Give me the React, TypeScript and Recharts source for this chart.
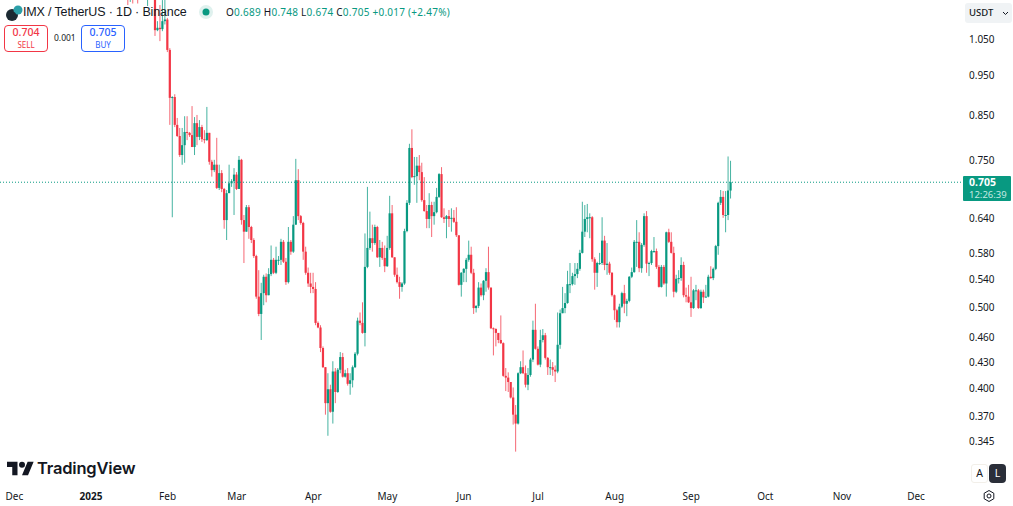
import React from "react";
import { ComposedChart, Bar, XAxis, YAxis, ReferenceLine } from "recharts";

const FONT = '"Noto Sans", "Open Sans", sans-serif';
const TITLE_FONT = '"Liberation Sans", Arial, sans-serif';
const UP = "#089981";
const DOWN = "#F23645";

const firstDay = 12; // days since 1 Jan 2025 of the first candle
const firstOpen = 1.33;
const closes = [
  1.30,1.27,1.24,1.22,1.25,1.23,1.26,1.24,
  1.23,1.21,1.24,1.26,1.22,1.20,1.073,1.080,1.076,1.100,
  1.105,1.016,.890,.892,.826,.801,.760,.781,.810,.808,
  .803,.777,.830,.799,.821,.794,.792,.808,.746,.729,
  .740,.694,.723,.692,.635,.684,.703,.707,.720,.692,
  .750,.635,.615,.658,.623,.601,.575,.514,.490,.519,
  .543,.516,.547,.569,.549,.569,.569,.598,.566,.535,
  .598,.582,.627,.709,.642,.630,.582,.549,.533,.528,
  .525,.478,.472,.446,.423,.383,.398,.374,.418,.395,
  .420,.435,.412,.416,.404,.408,.423,.439,.481,.478,
  .465,.558,.588,.604,.596,.623,.573,.588,.572,.559,
  .588,.647,.573,.546,.535,.528,.533,.616,.666,.775,
  .715,.717,.738,.725,.671,.651,.637,.662,.642,.649,
  .677,.721,.640,.637,.642,.637,.639,.632,.609,.531,
  .549,.555,.569,.577,.549,.498,.501,.527,.516,.537,
  .550,.527,.471,.470,.465,.456,.452,.413,.411,.406,
  .389,.371,.362,.416,.423,.416,.403,.414,.432,.469,
  .445,.426,.456,.462,.434,.423,.423,.420,.418,.450,
  .491,.498,.505,.532,.532,.544,.547,.555,.580,.615,
  .637,.640,.640,.570,.549,.564,.564,.600,.561,.563,
  .549,.516,.495,.479,.500,.519,.504,.508,.543,.550,
  .598,.598,.556,.593,.642,.563,.564,.583,.583,.558,
  .528,.558,.533,.614,.598,.580,.521,.540,.541,.561,
  .516,.514,.506,.498,.523,.523,.498,.521,.513,.514,
  .543,.541,.555,.591,.666,.677,.644,.644,.689,.705,
];
const highs = [
  1.36,1.33,1.30,1.28,1.30,1.29,1.31,1.29,
  1.31,1.28,1.29,1.30,1.27,1.26,1.24,1.10,1.15,1.166,
  1.17,1.110,1.021,.894,.899,.842,.819,.819,.846,.846,
  .810,.870,.844,.849,.837,.826,.814,.868,.808,.750,
  .750,.797,.740,.729,.694,.690,.740,.711,.733,.725,
  .758,.752,.644,.662,.662,.625,.604,.577,.553,.534,
  .546,.548,.556,.592,.572,.590,.575,.603,.601,.572,
  .623,.601,.642,.752,.731,.644,.632,.590,.557,.549,
  .549,.535,.480,.475,.448,.423,.416,.403,.430,.422,
  .422,.441,.440,.420,.422,.416,.425,.441,.485,.492,
  .506,.612,.696,.650,.627,.627,.625,.601,.598,.592,
  .608,.679,.662,.573,.557,.543,.535,.620,.671,.784,
  .816,.756,.756,.760,.744,.715,.662,.684,.668,.668,
  .694,.723,.735,.656,.644,.653,.656,.653,.658,.608,
  .550,.556,.572,.600,.590,.555,.502,.535,.533,.538,
  .556,.590,.527,.472,.471,.463,.488,.453,.422,.417,
  .406,.400,.381,.417,.430,.443,.425,.422,.434,.481,
  .504,.448,.469,.470,.465,.435,.432,.429,.425,.492,
  .496,.528,.519,.552,.564,.549,.564,.564,.585,.668,
  .662,.664,.647,.642,.573,.566,.580,.640,.608,.596,
  .566,.550,.517,.497,.504,.521,.531,.511,.544,.557,
  .601,.635,.614,.596,.647,.651,.566,.585,.606,.587,
  .561,.561,.561,.615,.620,.614,.590,.546,.553,.573,
  .566,.527,.531,.543,.525,.531,.525,.524,.524,.531,
  .546,.559,.557,.593,.668,.690,.688,.688,.757,.748,
];
const lows = [
  1.25,1.22,1.19,1.15,1.16,1.155,1.19,1.155,
  1.18,1.17,1.19,1.147,1.17,1.17,1.056,1.070,1.041,1.07,
  1.09,1.010,.826,.640,.821,.799,.756,.740,.744,.792,
  .799,.777,.760,.781,.792,.788,.785,.790,.740,.716,
  .725,.692,.690,.686,.620,.601,.686,.696,.644,.690,
  .692,.627,.564,.615,.603,.596,.572,.511,.487,.456,
  .502,.506,.516,.544,.547,.547,.561,.561,.564,.531,
  .533,.577,.580,.627,.635,.627,.569,.546,.528,.519,
  .519,.475,.471,.441,.422,.371,.350,.373,.362,.383,
  .394,.416,.411,.411,.402,.392,.400,.422,.437,.475,
  .464,.448,.556,.585,.582,.593,.572,.558,.569,.550,
  .558,.585,.572,.543,.533,.511,.521,.531,.614,.662,
  .713,.700,.666,.709,.668,.650,.621,.621,.606,.627,
  .647,.675,.639,.630,.604,.623,.615,.630,.606,.530,
  .514,.535,.535,.566,.547,.490,.492,.498,.514,.509,
  .521,.524,.470,.437,.448,.452,.451,.412,.396,.395,
  .388,.361,.335,.361,.415,.415,.400,.397,.412,.429,
  .444,.425,.423,.453,.432,.414,.414,.413,.406,.416,
  .445,.491,.491,.504,.519,.530,.531,.541,.552,.579,
  .606,.614,.604,.566,.524,.528,.561,.561,.553,.546,
  .546,.514,.482,.472,.472,.498,.491,.487,.506,.541,
  .549,.558,.550,.549,.590,.549,.544,.561,.580,.555,
  .527,.527,.531,.514,.596,.579,.513,.519,.533,.537,
  .513,.506,.505,.486,.497,.509,.497,.497,.505,.513,
  .513,.540,.538,.553,.577,.662,.639,.614,.635,.674,
];

const monthDays = [-31, 0, 31, 59, 90, 120, 151, 181, 212, 243, 273, 304, 334];
const monthLabels = ["Dec", "2025", "Feb", "Mar", "Apr", "May", "Jun", "Jul", "Aug", "Sep", "Oct", "Nov", "Dec"];
const priceTicks = [1.05, 0.95, 0.85, 0.75, 0.64, 0.58, 0.54, 0.5, 0.46, 0.43, 0.4, 0.37, 0.345];

const table = closes.map((close, i) => ({
  day: firstDay + i,
  open: i === 0 ? firstOpen : closes[i - 1],
  close,
  high: highs[i],
  low: lows[i],
  range: [lows[i], highs[i]],
}));

function Candle(props: any) {
  const { x, y, width, height, payload } = props;
  const { open, close, high, low } = payload;
  const cx = x + width / 2;
  const span = Math.log(high) - Math.log(low);
  const yOf = (v: number) => y + (height * (Math.log(high) - Math.log(v))) / span;
  const top = yOf(Math.max(open, close));
  const bottom = yOf(Math.min(open, close));
  const color = close >= open ? UP : DOWN;
  return (
    <g>
      <rect x={cx - 0.5} y={y} width={1} height={height} fill={color} fillOpacity={0.75} />
      <rect x={cx - 1.1} y={top} width={2.2} height={Math.max(bottom - top, 1)} fill={color} />
    </g>
  );
}

function MonthTick(props: any) {
  const { x, y, payload } = props;
  const label = monthLabels[monthDays.indexOf(payload.value)];
  return (
    <text x={x} y={y + 7} textAnchor="middle" fontFamily={FONT} fontSize={10} fill="#131722" fontWeight={label === "2025" ? 700 : 400}>
      {label}
    </text>
  );
}

function PriceTick(props: any) {
  const { y, payload } = props;
  return (
    <text x={969} y={y + 4.5} textAnchor="start" fontFamily={FONT} fontSize={10} fill="#131722">
      {payload.value.toFixed(3)}
    </text>
  );
}

const abs = (left: number, top: number, extra: React.CSSProperties = {}): React.CSSProperties => ({
  position: "absolute",
  left,
  top,
  whiteSpace: "nowrap",
  fontFamily: FONT,
  ...extra,
});

function Header() {
  const v: React.CSSProperties = { color: UP };
  const k: React.CSSProperties = { color: "#131722" };
  return (
    <>
      <svg style={abs(5, 4)} width={18} height={18} viewBox="0 0 18 18">
        <circle cx={7} cy={11} r={6} fill="#1c2a33" />
        <circle cx={13} cy={6} r={4.5} fill="#2b9fa8" />
        <circle cx={8} cy={11} r={3} fill="#1c2a33" />
      </svg>
      <div style={abs(23, 3, { fontFamily: TITLE_FONT, fontSize: 12.5, letterSpacing: -0.15, lineHeight: "18px", color: "#131722" })}>IMX / TetherUS · 1D · Binance</div>
      <svg style={abs(199, 5)} width={14} height={14}>
        <circle cx={7} cy={7} r={7} fill="#dff1ee" />
        <circle cx={7} cy={7} r={3.5} fill={UP} />
      </svg>
      <div style={abs(226, 5, { fontSize: 10, lineHeight: "14px", letterSpacing: 0.25 })}>
        <span style={k}>O</span><span style={v}>0.689 </span>
        <span style={k}> H</span><span style={v}>0.748 </span>
        <span style={k}> L</span><span style={v}>0.674 </span>
        <span style={k}> C</span><span style={v}>0.705 +0.017 (+2.47%)</span>
      </div>
      <div style={abs(4, 25, { width: 42, height: 25, border: `1px solid ${DOWN}`, borderRadius: 4, background: "#fff", textAlign: "center", color: DOWN })}>
        <div style={{ fontSize: 10.5, lineHeight: "13px", fontWeight: 500 }}>0.704</div>
        <div style={{ fontSize: 8, lineHeight: "11px" }}>SELL</div>
      </div>
      <div style={abs(54, 32, { fontSize: 8.5, lineHeight: "12px", color: "#131722" })}>0.001</div>
      <div style={abs(81, 25, { width: 42, height: 25, border: "1px solid #2962FF", borderRadius: 4, background: "#fff", textAlign: "center", color: "#2962FF" })}>
        <div style={{ fontSize: 10.5, lineHeight: "13px", fontWeight: 500 }}>0.705</div>
        <div style={{ fontSize: 8, lineHeight: "11px" }}>BUY</div>
      </div>
    </>
  );
}

function RightBits() {
  return (
    <>
      <div style={abs(965, 3, { width: 47, height: 20, background: "#f0f3f5", borderRadius: 3 })}>
        <span style={{ position: "absolute", left: 4, top: 3, fontSize: 9.5, lineHeight: "14px", color: "#131722", fontWeight: 500 }}>USDT</span>
        <svg style={{ position: "absolute", left: 37, top: 8 }} width={7} height={5}>
          <path d="M1 1l2.5 2.5L6 1" fill="none" stroke="#131722" strokeWidth={1} />
        </svg>
      </div>
      <div style={abs(963, 176, { width: 48, height: 25, background: UP, borderRadius: 1 })}>
        <div style={{ paddingLeft: 6, fontSize: 10.5, lineHeight: "13px", color: "#fff", fontWeight: 700 }}>0.705</div>
        <div style={{ paddingLeft: 6, fontSize: 9.5, lineHeight: "11px", color: "#c4e9e1" }}>12:26:39</div>
      </div>
      <div style={abs(971, 464, { width: 15, height: 17, border: "1px solid #f2efe9", borderRadius: 3, fontSize: 10.5, lineHeight: "17px", textAlign: "center", color: "#131722", background: "#fff" })}>A</div>
      <div style={abs(989, 464, { width: 17, height: 19, background: "#2a2e39", borderRadius: 4, fontSize: 10.5, lineHeight: "19px", textAlign: "center", color: "#fff" })}>L</div>
      <svg style={abs(982, 489)} width={14} height={14} viewBox="0 0 14 14">
        <path d="M7 1.5l4.8 2.75v5.5L7 12.5 2.2 9.75v-5.5z" fill="none" stroke="#131722" strokeWidth={1} />
        <circle cx={7} cy={7} r={2} fill="none" stroke="#131722" strokeWidth={1} />
      </svg>
    </>
  );
}

function Logo() {
  return (
    <>
      <svg style={abs(7, 461)} width={27} height={15} viewBox="0 4 36 18">
        <path d="M14 22H7V11H0V4h14v18zM28 22h-8l7.5-18h8L28 22z" fill="#131722" />
        <circle cx={20} cy={8} r={4} fill="#131722" />
      </svg>
      <div style={abs(37, 457, { fontFamily: '"Inter", sans-serif', fontSize: 16.5, lineHeight: "22px", fontWeight: 600, color: "#131722", letterSpacing: -0.2 })}>TradingView</div>
    </>
  );
}

export default function App() {
  return (
    <div style={{ position: "absolute", left: 0, top: 0, width: 1013, height: 506, overflow: "hidden", background: "#fff" }}>
      <ComposedChart width={1013} height={506} data={table} margin={{ top: 0, right: 0, bottom: 0, left: 0 }}>
        <XAxis
          dataKey="day"
          type="number"
          domain={[-36.84, 352.2]}
          allowDataOverflow
          ticks={monthDays}
          interval={0}
          axisLine={false}
          tickLine={false}
          height={21}
          tick={<MonthTick />}
        />
        <YAxis
          orientation="right"
          scale="log"
          domain={[0.3055, 1.1662]}
          allowDataOverflow
          ticks={priceTicks}
          interval={0}
          width={52}
          axisLine={false}
          tickLine={false}
          tick={<PriceTick />}
        />
        <ReferenceLine y={0.705} stroke={UP} strokeDasharray="1 2" strokeWidth={1} />
        <Bar dataKey="range" barSize={2} isAnimationActive={false} shape={<Candle />} />
      </ComposedChart>
      <Header />
      <Logo />
      <RightBits />
    </div>
  );
}
